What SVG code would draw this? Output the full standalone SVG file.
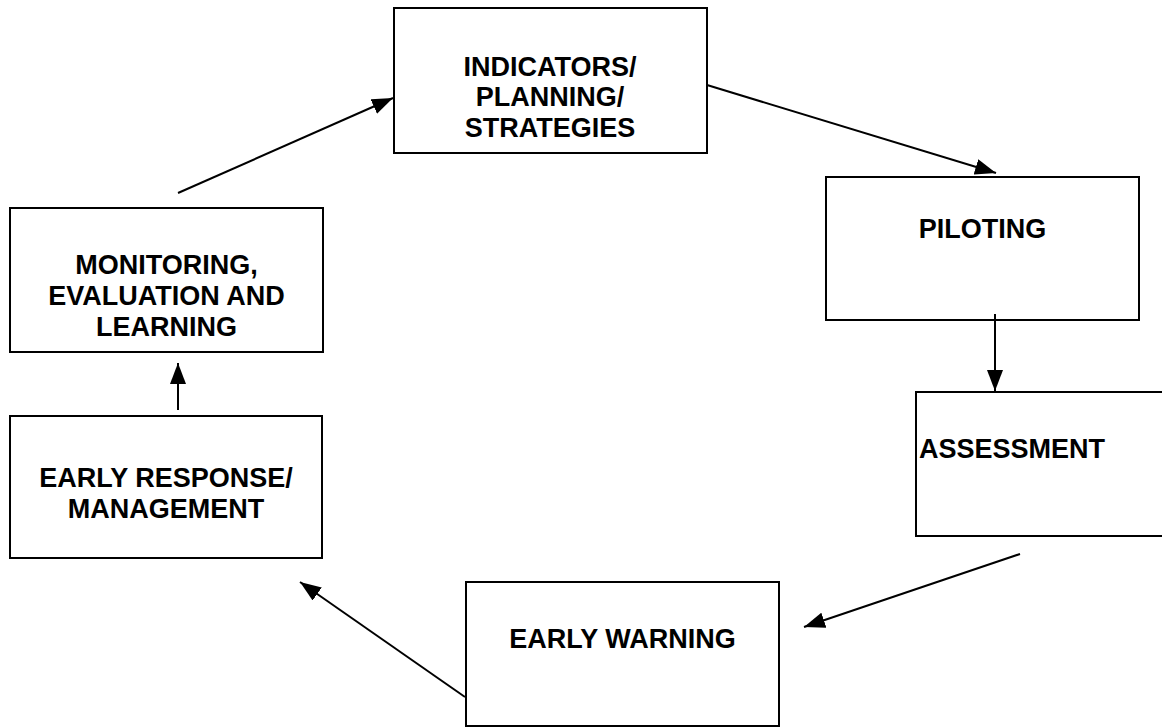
<svg xmlns="http://www.w3.org/2000/svg" width="1162" height="727" viewBox="0 0 1162 727">
<style>
.box{fill:#fff;stroke:#000;stroke-width:2}
.lbl{font-family:"Liberation Sans",Arial,sans-serif;font-weight:bold;font-size:27px;text-anchor:middle;fill:#000}
.conn{stroke:#000;stroke-width:2;fill:none;marker-end:url(#ah)}
</style>
<defs>
<marker id="ah" markerUnits="userSpaceOnUse" markerWidth="22" markerHeight="16" refX="21" refY="8" orient="auto">
<path d="M0,0 L21,8 L0,16 z" fill="#000"/>
</marker>
</defs>
<rect width="1162" height="727" fill="#fff"/>
<g id="indicators">
<rect class="box" x="394" y="8" width="313" height="145"/>
<text class="lbl" x="550" y="76">INDICATORS/</text>
<text class="lbl" x="550" y="106">PLANNING/</text>
<text class="lbl" x="550" y="137">STRATEGIES</text>
</g>
<g id="piloting">
<rect class="box" x="826" y="177" width="313" height="143"/>
<text class="lbl" x="982.5" y="238">PILOTING</text>
</g>
<g id="assessment">
<rect class="box" x="916" y="392" width="313" height="144"/>
<text class="lbl" x="1012" y="458">ASSESSMENT</text>
</g>
<g id="early-warning">
<rect class="box" x="466" y="582" width="313" height="144"/>
<text class="lbl" x="622.5" y="648">EARLY WARNING</text>
</g>
<g id="early-response">
<rect class="box" x="10" y="416" width="312" height="142"/>
<text class="lbl" x="166" y="487">EARLY RESPONSE/</text>
<text class="lbl" x="166" y="518">MANAGEMENT</text>
</g>
<g id="monitoring">
<rect class="box" x="10" y="208" width="313" height="144"/>
<text class="lbl" x="166.5" y="274">MONITORING,</text>
<text class="lbl" x="166.5" y="305">EVALUATION AND</text>
<text class="lbl" x="166.5" y="336">LEARNING</text>
</g>
<g id="connectors">
<line class="conn" x1="178" y1="193" x2="393" y2="98"/>
<line class="conn" x1="707" y1="85" x2="996" y2="173"/>
<line class="conn" x1="995" y1="314" x2="995" y2="391"/>
<line class="conn" x1="1020" y1="554" x2="804" y2="627"/>
<line class="conn" x1="465" y1="697" x2="300" y2="582"/>
<line class="conn" x1="178" y1="410" x2="178" y2="363"/>
</g>
</svg>
